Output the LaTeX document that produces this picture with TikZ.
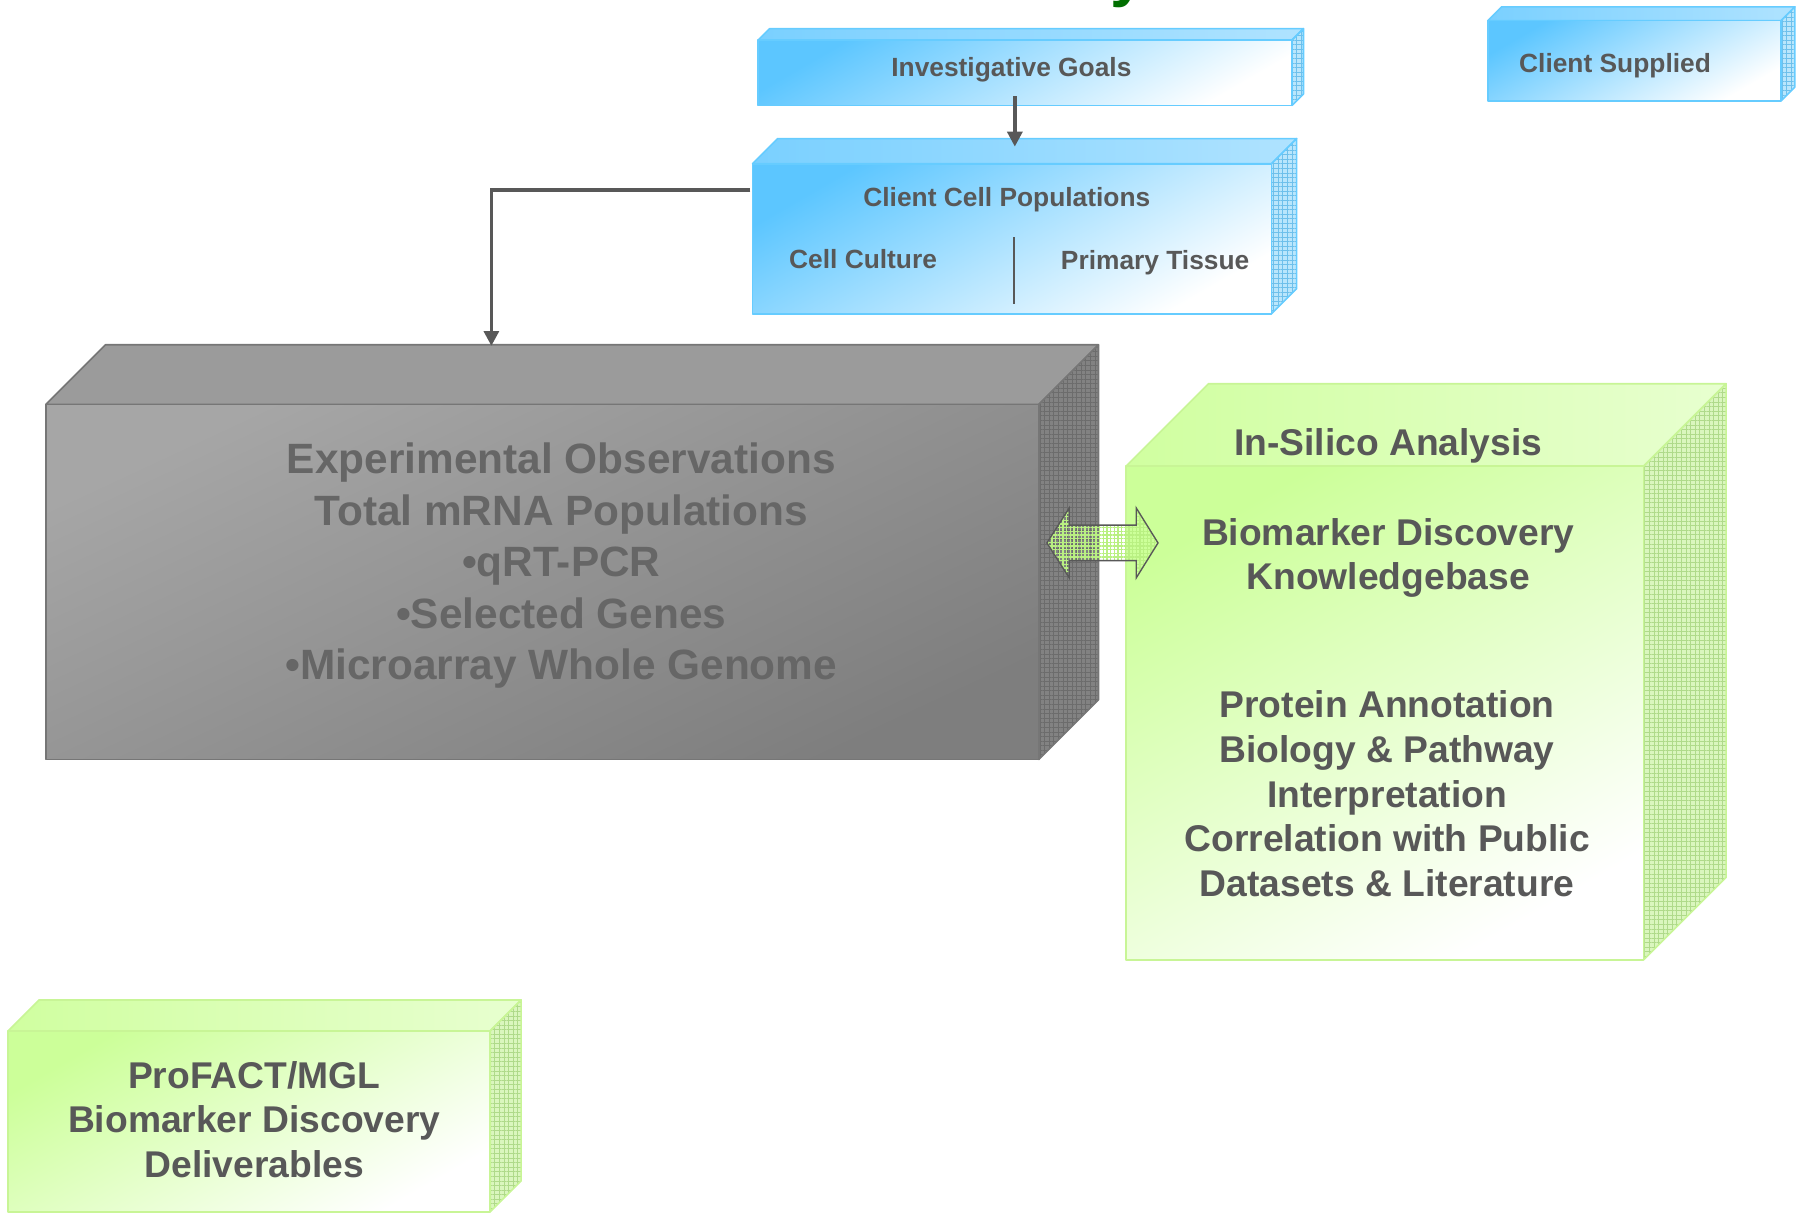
\documentclass[tikz,border=0pt]{standalone}
\usepackage{fontspec}
\setmainfont{Liberation Sans}
\usetikzlibrary{arrows.meta,calc,patterns.meta}

\definecolor{ink}{RGB}{88,88,88}
\definecolor{inkgray}{RGB}{102,102,102}
\definecolor{titlegreen}{RGB}{0,110,0}
\definecolor{skyedge}{RGB}{102,204,255}
\definecolor{skyfront}{RGB}{92,198,255}
\definecolor{skytop}{RGB}{122,208,255}
\definecolor{skyside}{RGB}{185,230,252}
\definecolor{skymesh}{RGB}{110,192,235}
\definecolor{stoneedge}{RGB}{118,118,118}
\definecolor{stonetop}{RGB}{155,155,155}
\definecolor{stonehigh}{RGB}{166,166,166}
\definecolor{stonelow}{RGB}{126,126,126}
\definecolor{stoneside}{RGB}{130,130,130}
\definecolor{stonemesh}{RGB}{108,108,108}
\definecolor{leafedge}{RGB}{200,245,150}
\definecolor{leaffront}{RGB}{204,255,153}
\definecolor{leaftop}{RGB}{208,255,160}
\definecolor{leafside}{RGB}{218,246,190}
\definecolor{leafmesh}{RGB}{175,218,138}
\definecolor{arrowmesh}{RGB}{185,240,130}

\tikzset{
  face/.style={line width=0.7pt, line join=round},
  box/.style={face, inner sep=0pt, outer sep=0pt},
  sky front/.style={box, draw=skyedge, top color=skyfront, bottom color=white, shading angle=30},
  sky top/.style={face, draw=skyedge, left color=skytop, right color=skytop!60!white},
  sky side/.style={face, draw=skyedge, preaction={fill=skyside}, pattern={Hatch[distance=2pt,line width=0.35pt]}, pattern color=skymesh},
  stone front/.style={box, draw=stoneedge, top color=stonehigh, bottom color=stonelow, shading angle=25},
  stone top/.style={face, draw=stoneedge, fill=stonetop},
  stone side/.style={face, draw=stoneedge, preaction={fill=stoneside}, pattern={Hatch[distance=2pt,line width=0.35pt]}, pattern color=stonemesh},
  leaf front/.style={box, draw=leafedge, top color=leaffront, bottom color=white, shading angle=30},
  leaf top/.style={face, draw=leafedge, left color=leaftop, right color=leaftop!50!white},
  leaf side/.style={face, draw=leafedge, preaction={fill=leafside}, pattern={Hatch[distance=2pt,line width=0.35pt]}, pattern color=leafmesh},
  smalltxt/.style={inner sep=0pt, text=ink, font=\bfseries\fontsize{11.5pt}{13.8pt}\selectfont},
  bigtxt/.style={inner sep=0pt, text=ink, align=center, font=\bfseries\fontsize{16.25pt}{19.5pt}\selectfont},
  graytxt/.style={inner sep=0pt, text=inkgray, align=center, font=\bfseries\fontsize{18.5pt}{22.5pt}\selectfont},
  link/.style={draw=ink, line width=1.5pt, -{Triangle[length=6.5pt,width=6.5pt]}},
  divider/.style={draw=ink, line width=0.8pt},
  twoway/.style={draw=ink, line width=0.6pt, line join=miter, pattern={Hatch[distance=1.6pt,line width=0.55pt]}, pattern color=arrowmesh}
}

\newcommand{\cuboid}[7]{%
  \path[#7 top] (#2,#3) -- ++(#6,-#6) -- ++(#4-#2,0) -- (#4,#3) -- cycle;
  \path[#7 side] (#4,#3) -- ++(#6,-#6) -- ++(0,#5-#3) -- (#4,#5) -- cycle;
  \node[#7 front, minimum width={(#4-#2)*0.5pt}, minimum height={(#5-#3)*0.5pt}] (#1) at ({(#2+#4)/2},{(#3+#5)/2}) {};
}

\begin{document}
\begin{tikzpicture}[x=0.5pt,y=-0.5pt]
  \useasboundingbox (0,0) rectangle (1568,1059);

  \node[anchor=base west, inner sep=0pt, text=titlegreen, font=\bfseries\fontsize{28pt}{30pt}\selectfont] (title) at (969,-5) {y};

  \cuboid{goals}{662}{35}{1128}{92}{10}{sky}
  \cuboid{cells}{657}{143}{1110}{274}{22}{sky}
  \cuboid{supplied}{1299}{18}{1555}{88}{12}{sky}
  \cuboid{expt}{40}{353}{907}{663}{52}{stone}
  \cuboid{silico}{983}{407}{1435}{838}{72}{leaf}
  \cuboid{deliv}{7}{900}{428}{1058}{27}{leaf}

  \node[smalltxt] (goalslbl) at (883,61) {Investigative Goals};
  \node[smalltxt] (cellslbl) at (879,174) {Client Cell Populations};
  \node[smalltxt] (culture) at (753.5,226) {Cell Culture};
  \node[smalltxt] (tissue) at (1008.5,229) {Primary Tissue};
  \draw[divider] (885,207) -- (885,265);
  \node[smalltxt] (suppliedlbl) at (1410,57) {Client Supplied};

  \node[graytxt] (exptlbl) at (490,494) {Experimental Observations\\Total mRNA Populations\\•qRT-PCR\\•Selected Genes\\•Microarray Whole Genome};

  \node[bigtxt] (silicolbl) at (1212,389) {In-Silico Analysis};
  \node[bigtxt] (knowledge) at (1212,487) {Biomarker Discovery\\Knowledgebase};
  \node[bigtxt] (interp) at (1211,693) {Protein Annotation\\Biology \& Pathway\\Interpretation\\Correlation with Public\\Datasets \& Literature};

  \node[bigtxt] (delivlbl) at (222,977.5) {ProFACT/MGL\\Biomarker Discovery\\Deliverables};

  \draw[link] ($(goals.south)+(-4.5pt,4pt)$) -- ($(cells.north)+(1.25pt,7.5pt)$);
  \draw[link] ($(cells.west)+(-1pt,21.25pt)$) -| ($(expt.north)+(-22.25pt,25.5pt)$);

  \draw[twoway] ($(expt.east)+(3.5pt,17pt)$) -- ++(19.5,-30.5) -- ++(0,15) -- ++(58.5,0) -- ++(0,-15) -- ++(19,30.5) -- ++(-19,30.5) -- ++(0,-15) -- ++(-58.5,0) -- ++(0,15) -- cycle;
\end{tikzpicture}
\end{document}
